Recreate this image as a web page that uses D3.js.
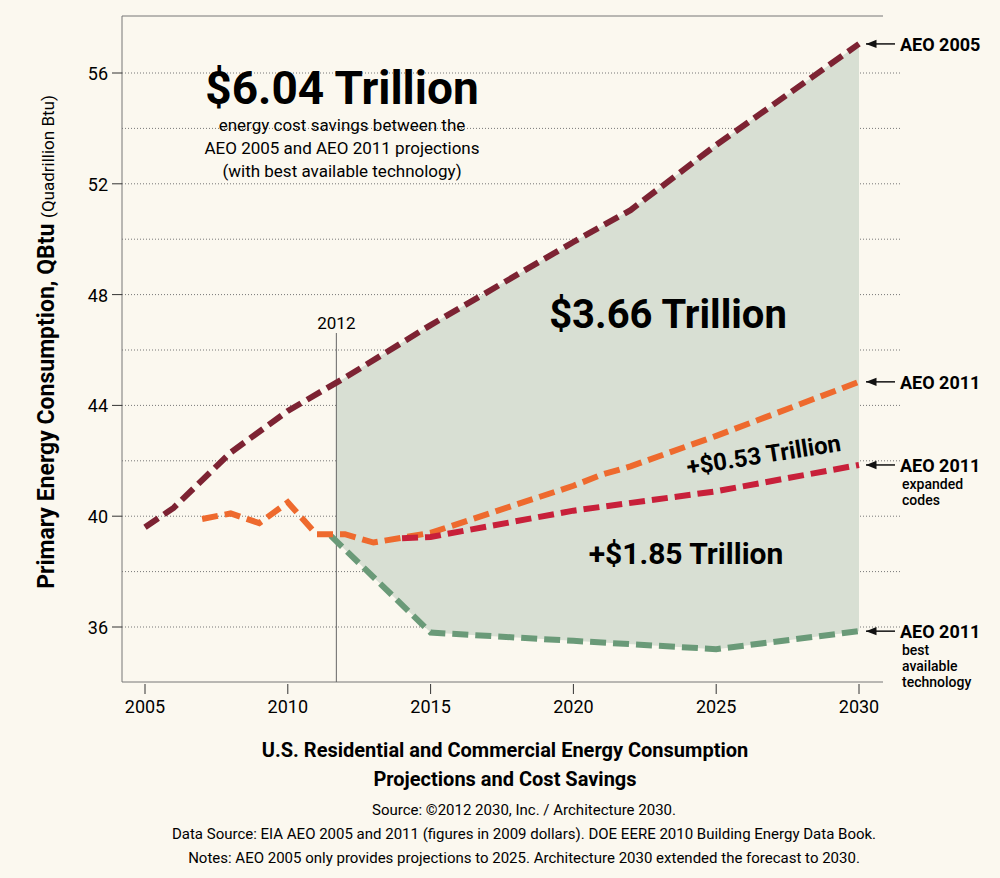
<!DOCTYPE html>
<html><head><meta charset="utf-8">
<script src="https://cdn.jsdelivr.net/npm/d3@7"></script>
<style>
body{margin:0;background:#fbf8ef;font-family:Roboto,"Liberation Sans",sans-serif;}
</style></head><body>
<svg id="chart" width="1000" height="878"></svg>
<script>
// values
const xTicks = [2005, 2010, 2015, 2020, 2025, 2030];
const yTicks = [36, 40, 44, 48, 52, 56];
const gridVals = [36, 38, 40, 42, 44, 46, 48, 50, 52, 54, 56];
const aeo2005 = [[2005,39.6],[2006,40.3],[2008,42.3],[2010,43.8],[2012,45.0],[2015,46.9],[2020,49.9],[2022,51.05],[2025,53.4],[2030,57.05]];
const aeo2011 = [[2007,39.9],[2008,40.1],[2009,39.75],[2010,40.5],[2011,39.35],[2012,39.35],[2013,39.05],[2015,39.4],[2020,41.1],[2021,41.5],[2022,41.8],[2025,42.9],[2030,44.85]];
const expanded = [[2014,39.2],[2015,39.25],[2020,40.2],[2025,40.9],[2030,41.85]];
const bestTech = [[2011.5,39.3],[2015,35.8],[2020,35.5],[2025,35.2],[2030,35.85]];
const cutYear = 2011.7;

const svg = d3.select('#chart');
const x = d3.scaleLinear().domain([2005, 2030]).range([145, 859]);
const y = d3.scaleLinear().domain([36, 56]).range([627, 73]);
const left = 122, bottom = 682, right = 883;

// grid
svg.selectAll('.grid').data(gridVals).enter().append('line')
  .attr('x1', left).attr('x2', 902).attr('y1', d => y(d)).attr('y2', d => y(d))
  .attr('stroke', '#777').attr('stroke-width', 1).attr('stroke-dasharray', '1,2');

// shaded savings area
const interp = (arr, t) => {
  for (let i = 1; i < arr.length; i++) if (t <= arr[i][0]) {
    const a = arr[i-1], b = arr[i]; return a[1] + (b[1]-a[1])*(t-a[0])/(b[0]-a[0]);
  }
  return arr[arr.length-1][1];
};
const topPts = [[cutYear, interp(aeo2005, cutYear)], ...aeo2005.filter(d => d[0] > cutYear)];
const botPts = [[cutYear, interp(bestTech, cutYear)], ...bestTech.filter(d => d[0] > cutYear)];
const poly = topPts.concat(botPts.slice().reverse());
svg.append('path').attr('d', d3.line().x(d => x(d[0])).y(d => y(d[1]))(poly) + 'Z')
  .attr('fill', '#d8dfd3');

// axes frame
svg.append('line').attr('x1', left).attr('x2', left).attr('y1', 16).attr('y2', bottom).attr('stroke', '#777');
svg.append('line').attr('x1', left).attr('x2', right).attr('y1', bottom).attr('y2', bottom).attr('stroke', '#777');
svg.append('line').attr('x1', left).attr('x2', right).attr('y1', 16).attr('y2', 16).attr('stroke', '#777');
svg.append('line').attr('x1', x(cutYear)).attr('x2', x(cutYear)).attr('y1', 333).attr('y2', bottom).attr('stroke', '#666');
svg.append('text').attr('x', x(cutYear)).attr('y', 329).attr('text-anchor', 'middle')
  .style('font-size', '17px').text('2012');

// y ticks
svg.selectAll('.yt').data(yTicks).enter().append('line')
  .attr('x1', left - 10).attr('x2', left).attr('y1', d => y(d)).attr('y2', d => y(d)).attr('stroke', '#333');
svg.selectAll('.yl').data(yTicks).enter().append('text')
  .attr('x', left - 14).attr('y', d => y(d) + 7).attr('text-anchor', 'end')
  .style('font-size', '18px').text(d => d);
// x ticks
svg.selectAll('.xt').data(xTicks).enter().append('line')
  .attr('x1', d => x(d)).attr('x2', d => x(d)).attr('y1', bottom + 2).attr('y2', bottom + 12).attr('stroke', '#333');
svg.selectAll('.xl').data(xTicks).enter().append('text')
  .attr('x', d => x(d)).attr('y', 713).attr('text-anchor', 'middle')
  .style('font-size', '18px').text(d => d);

// lines
const line = d3.line().x(d => x(d[0])).y(d => y(d[1]));
[[aeo2005, '#7d2333'], [bestTech, '#6a9a78'], [aeo2011, '#ee6a2e'], [expanded, '#c8203a']].forEach(([data, c]) => {
  svg.append('path').attr('d', line(data)).attr('fill', 'none').attr('stroke', c)
    .attr('stroke-width', 6).attr('stroke-dasharray', '16,7');
});

// right labels
const arrow = svg.append('defs').append('marker').attr('id', 'ah').attr('viewBox', '0 0 10 10')
  .attr('refX', 0).attr('refY', 5).attr('markerWidth', 7).attr('markerHeight', 7).attr('orient', '0');
arrow.append('path').attr('d', 'M10,1 L0,5 L10,9 Z').attr('fill', '#111');
const labels = [
  {yr: 57.05, t: 'AEO 2005', sub: []},
  {yr: 44.85, t: 'AEO 2011', sub: []},
  {yr: 41.85, t: 'AEO 2011', sub: ['expanded', 'codes']},
  {yr: 35.85, t: 'AEO 2011', sub: ['best', 'available', 'technology']}
];
labels.forEach(l => {
  const yy = y(l.yr);
  svg.append('line').attr('x1', 866).attr('x2', 895).attr('y1', yy).attr('y2', yy)
    .attr('stroke', '#111').attr('stroke-width', 1.5).attr('marker-start', 'url(#ah)');
  svg.append('text').attr('x', 900).attr('y', yy + 7).style('font-size', '18px').style('font-weight', 'bold').text(l.t);
  l.sub.forEach((s, i) => svg.append('text').attr('x', 902).attr('y', yy + 24 + i * 16)
    .style('font-size', '14px').style('font-weight', '500').text(s));
});

// annotations
svg.append('text').attr('x', 342).attr('y', 104).attr('text-anchor', 'middle')
  .style('font-size', '46px').style('font-weight', 'bold').text('$6.04 Trillion');
['energy cost savings between the', 'AEO 2005 and AEO 2011 projections', '(with best available technology)']
  .forEach((s, i) => svg.append('text').attr('x', 342).attr('y', 131 + i * 23).attr('text-anchor', 'middle')
    .style('font-size', '17px').text(s));
svg.append('text').attr('x', 668).attr('y', 328).attr('text-anchor', 'middle')
  .style('font-size', '40px').style('font-weight', 'bold').text('$3.66 Trillion');
svg.append('text').attr('transform', 'translate(765,463) rotate(-9)').attr('text-anchor', 'middle')
  .style('font-size', '24px').style('font-weight', 'bold').text('+$0.53 Trillion');
svg.append('text').attr('x', 686).attr('y', 564).attr('text-anchor', 'middle')
  .style('font-size', '30px').style('font-weight', 'bold').text('+$1.85 Trillion');

// y axis title
const yt = svg.append('text').attr('transform', 'translate(54,342) rotate(-90)').attr('text-anchor', 'middle');
yt.append('tspan').style('font-size', '23px').style('font-weight', 'bold').text('Primary Energy Consumption, QBtu ');
yt.append('tspan').style('font-size', '17px').text('(Quadrillion Btu)');

// bottom titles
['U.S. Residential and Commercial Energy Consumption', 'Projections and Cost Savings']
  .forEach((s, i) => svg.append('text').attr('x', 505).attr('y', 757 + i * 29).attr('text-anchor', 'middle')
    .style('font-size', '20px').style('font-weight', 'bold').text(s));
['Source: ©2012 2030, Inc. / Architecture 2030.',
 'Data Source: EIA AEO 2005 and 2011 (figures in 2009 dollars). DOE EERE 2010 Building Energy Data Book.',
 'Notes: AEO 2005 only provides projections to 2025. Architecture 2030 extended the forecast to 2030.']
  .forEach((s, i) => svg.append('text').attr('x', 524).attr('y', 815 + i * 24).attr('text-anchor', 'middle')
    .style('font-size', '15px').text(s));
</script>
</body></html>
